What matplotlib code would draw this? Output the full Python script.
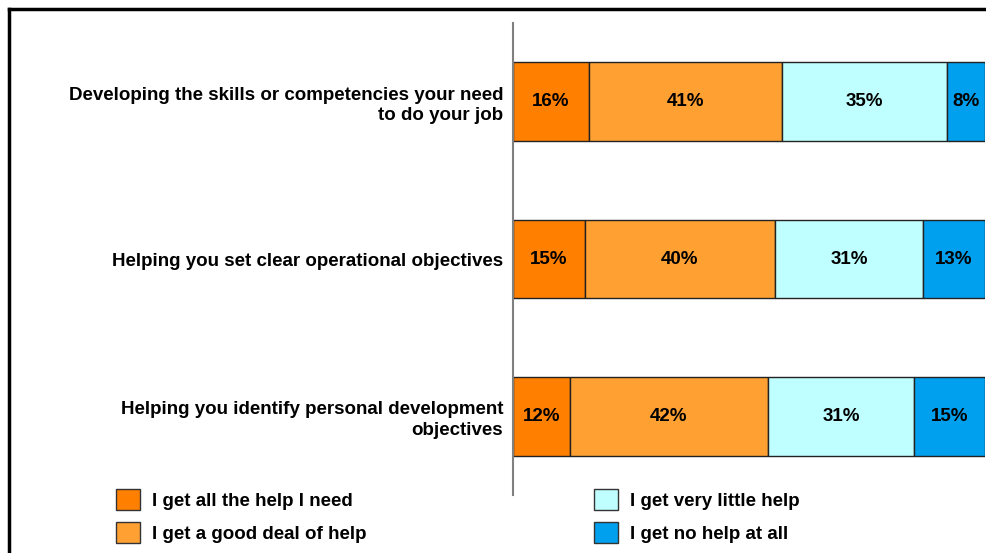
import matplotlib.pyplot as plt
from matplotlib.patches import Patch
from matplotlib.lines import Line2D
import numpy as np

plt.rcParams['font.family'] = ['Liberation Sans', 'DejaVu Sans']

questions = [
    "Developing the skills or competencies your need\nto do your job",
    "Helping you set clear operational objectives",
    "Helping you identify personal development\nobjectives",
]
answers = [
    "I get all the help I need",
    "I get a good deal of help",
    "I get very little help",
    "I get no help at all",
]
all_help = [16, 15, 12]
good_deal = [41, 40, 42]
little_help = [35, 31, 31]
no_help = [8, 13, 15]
colors = ["#FF8000", "#FFA033", "#C0FFFF", "#00A0EE"]

series = np.array([all_help, good_deal, little_help, no_help], dtype=float)
shares = series / series.sum(axis=0) * 100  # 100% stacked

fs = 13.5

fig = plt.figure(figsize=(9.87, 5.53), dpi=100)
ax = fig.add_axes([513 / 987, 1 - 495 / 553, 1 - 513 / 987 - 2 / 987, (495 - 23) / 553])

y = np.arange(len(questions))
left = np.zeros(len(questions))
for i in range(len(answers)):
    ax.barh(y, shares[i], left=left, height=0.5, color=colors[i],
            edgecolor="#222222", linewidth=1.0, label=answers[i])
    for j in range(len(questions)):
        ax.text(left[j] + shares[i][j] / 2, y[j], f"{int(series[i][j])}%",
                ha="center", va="center", fontsize=fs, fontweight="bold")
    left += shares[i]

ax.set_xlim(0, 100)
ax.set_ylim(len(questions) - 0.5, -0.5)
ax.set_yticks(y)
ax.set_yticklabels(questions, fontsize=fs, fontweight="bold", linespacing=1.25)
ax.tick_params(axis="y", length=0, pad=7)
ax.set_xticks([])
for side in ["top", "right", "bottom"]:
    ax.spines[side].set_visible(False)
ax.spines["left"].set_color("#808080")
ax.spines["left"].set_linewidth(1.5)

# frame lines along top and left
fig.add_artist(Line2D([9 / 987, 1], [1 - 9 / 553, 1 - 9 / 553], color="black", linewidth=2.5))
fig.add_artist(Line2D([9 / 987, 9 / 987], [0, 1 - 9 / 553], color="black", linewidth=2.5))

handles = [Patch(facecolor=c, edgecolor="#333333", linewidth=1.0) for c in colors]
fig.legend(handles, answers, ncol=2, loc="upper left",
           bbox_to_anchor=(99 / 987, 1 - 472 / 553), frameon=False,
           prop={"size": fs, "weight": "bold"},
           handlelength=1.28, handleheight=1.35, handletextpad=0.64,
           columnspacing=12.16, labelspacing=0.65)

fig.savefig("out.png", dpi=100)
